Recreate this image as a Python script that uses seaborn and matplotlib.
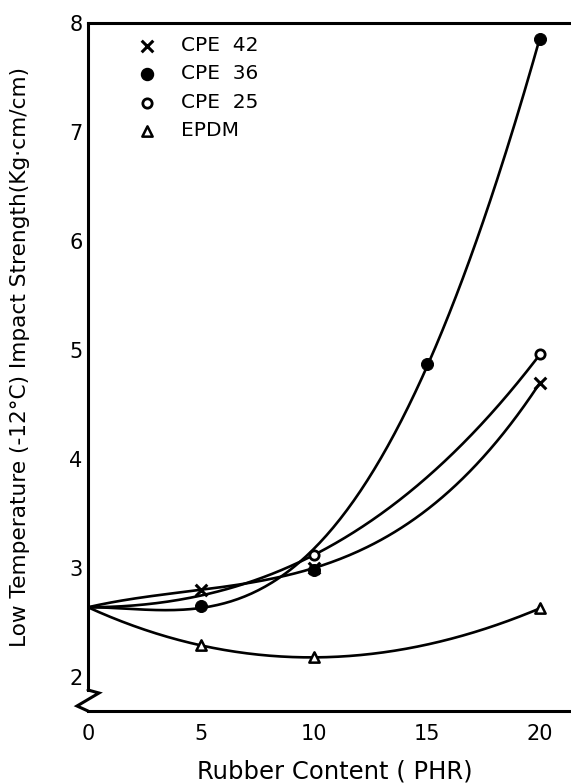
import numpy as np
import pandas as pd
import matplotlib
matplotlib.use("Agg")
import matplotlib.pyplot as plt
import seaborn as sns

# Impact strength (Kg·cm/cm) at -12 °C versus rubber content (PHR)
start_phr = 0
start_value = 2.64

cpe42_phr = [5, 10, 20]
cpe42_val = [2.80, 3.00, 4.70]

cpe36_phr = [5, 10, 15, 20]
cpe36_val = [2.65, 2.98, 4.87, 7.85]

cpe25_phr = [10, 20]
cpe25_val = [3.12, 4.96]

epdm_phr = [5, 10, 20]
epdm_val = [2.29, 2.18, 2.63]

series_names = ["CPE  42", "CPE  36", "CPE  25", "EPDM"]
x_ticks = [0, 5, 10, 15, 20]
y_ticks = [2, 3, 4, 5, 6, 7, 8]


def trend(x, y, powers, y0, weights=None, n=200):
    """Weighted least-squares polynomial trend anchored at the 0 PHR value."""
    x = np.asarray(x, float)
    y = np.asarray(y, float) - y0
    w = np.ones_like(x) if weights is None else np.asarray(weights, float)
    A = np.column_stack([x ** p for p in powers])
    coef, *_ = np.linalg.lstsq(A * w[:, None], y * w, rcond=None)
    xs = np.linspace(0, x.max(), n)
    ys = y0 + sum(c * xs ** p for c, p in zip(coef, powers))
    return xs, ys


sns.set_theme(style="white")
plt.rcParams["font.family"] = ["DejaVu Sans"]
plt.rcParams.update({"text.color": "black", "axes.labelcolor": "black",
                     "xtick.color": "black", "ytick.color": "black"})

fig = plt.figure(figsize=(5.71, 7.84), dpi=100)
ax = fig.add_axes([88 / 571, 1 - 711 / 784, 483 / 571, 688 / 784])

series = [
    (cpe42_phr, cpe42_val, [1, 2, 3], None,
     dict(marker="x", s=70, color="black", linewidths=2.2)),
    (cpe36_phr, cpe36_val, [2, 3, 4], [4, 1, 2, 1],
     dict(marker="o", s=75, color="black", edgecolor="black")),
    (cpe25_phr, cpe25_val, [2, 3], None,
     dict(marker="o", s=45, facecolor="white", edgecolor="black", linewidth=2)),
    (epdm_phr, epdm_val, [1, 2, 3], None,
     dict(marker="^", s=55, facecolor="white", edgecolor="black", linewidth=1.8)),
]

handles = []
for phr, val, powers, weights, mstyle in series:
    xs, ys = trend(phr, val, powers, start_value, weights)
    curve = pd.DataFrame({"phr": xs, "val": ys})
    sns.lineplot(data=curve, x="phr", y="val", ax=ax, color="black", lw=1.9,
                 sort=False, estimator=None)
    sns.scatterplot(x=phr, y=val, ax=ax, zorder=5, legend=False, **mstyle)
    handles.append(ax.scatter([], [], **mstyle))

ax.set_xlim(0, (571 - 88) / 22.6)
ax.set_ylim(8 - 688 / 109.0, 8)
ax.set_xticks(x_ticks)
ax.set_yticks(y_ticks)
ax.set_xticklabels([str(t) for t in x_ticks], fontsize=15)
ax.set_yticklabels([str(t) for t in y_ticks], fontsize=15)
ax.tick_params(axis="x", direction="in", length=9, width=1.8, pad=9)
ax.tick_params(axis="y", direction="in", length=11, width=1.8, pad=4)
ax.xaxis.get_major_ticks()[0].tick1line.set_visible(False)

for side in ["left", "bottom", "top"]:
    ax.spines[side].set_color("black")
    ax.spines[side].set_linewidth(2.2)
ax.spines["right"].set_visible(False)

# broken y axis: spine stops above the zig-zag mark
break_y = 8 - (690 - 23) / 109.0
ax.spines["left"].set_bounds(break_y, 8)
zx = [0, 11 / 483, -11 / 483, 0]
zy = [21 / 688, 18 / 688, 5 / 688, 0]
ax.plot(zx, zy, transform=ax.transAxes, color="black", lw=2.2,
        clip_on=False, solid_joinstyle="miter")

ax.set_xlabel("Rubber Content ( PHR)", fontsize=17.5)
ax.set_ylabel("Low Temperature (-12°C) Impact Strength(Kg·cm/cm)", fontsize=15.6)
ax.xaxis.set_label_coords((335 - 88) / 483, (711 - 772) / 688)
ax.xaxis.label.set_va("center")
ax.yaxis.set_label_coords((20 - 88) / 483, (711 - 357) / 688)
ax.yaxis.label.set_va("center")

ax.legend(handles, series_names, loc="upper left",
          bbox_to_anchor=((137 - 88) / 483, 1 - (36 - 23) / 688),
          frameon=False, fontsize=14.5, handlelength=1.0, handletextpad=1.2,
          labelspacing=0.47, borderpad=0, borderaxespad=0)

fig.savefig("out.png", dpi=100, facecolor="white")
